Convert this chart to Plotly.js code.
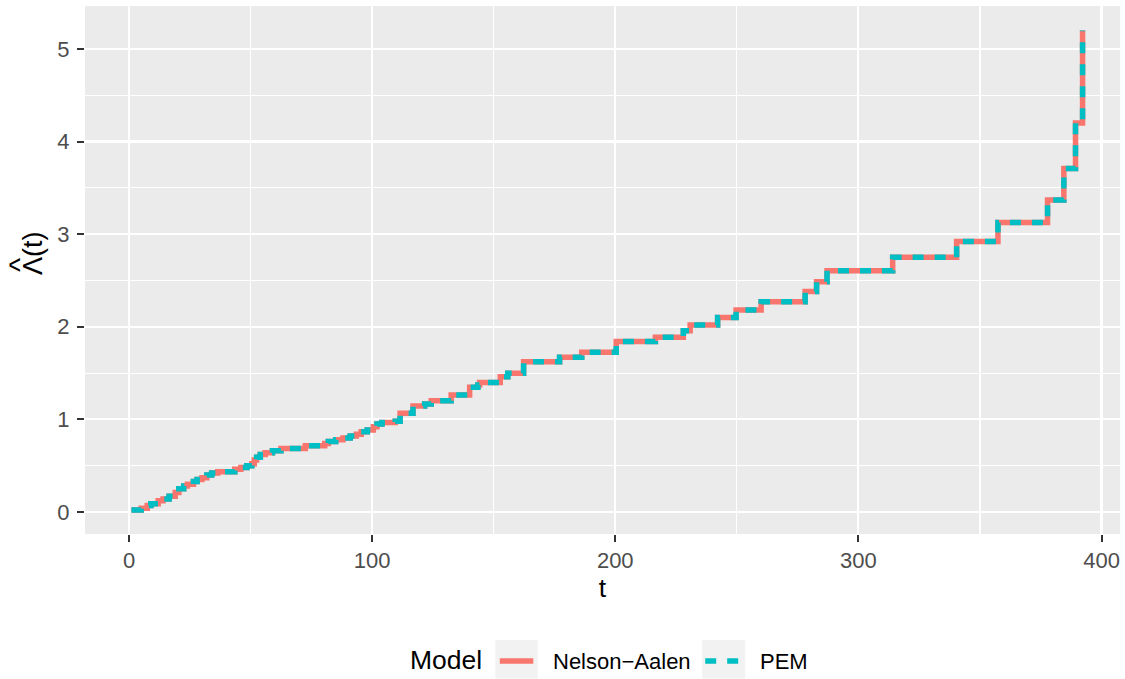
<!DOCTYPE html>
<html>
<head>
<meta charset="utf-8">
<script src="https://cdn.plot.ly/plotly-3.0.1.min.js"></script>
<style>
  html, body { margin: 0; padding: 0; background: #ffffff; }
  #chart { width: 1125px; height: 679px; }
</style>
</head>
<body>
<div id="chart"></div>
<script>
// Cumulative hazard estimates: jump times and the value reached at each jump
const naTime = [1, 5, 7.5, 9, 12, 14, 16.5, 19, 20.5, 22.5, 24, 26.5, 28, 30, 32, 34, 36.5, 43.5, 46, 48.5,
  50.5, 51.5, 52.5, 54, 56, 59, 62.5, 72.5, 80.5, 82, 85, 88, 91, 93.5, 95.5, 98, 100.5, 102, 104, 109.5,
  111.5, 116.8, 121.6, 124.3, 132.5, 140.1, 143.5, 144.2, 152.7, 155.8, 162.3, 177.1, 186.2, 200.4, 216.5,
  228, 230.8, 242.1, 249.7, 260, 278.1, 282.8, 287.1, 314.1, 340.4, 357.4, 377.8, 384.5, 389.3, 392.2];
const naHazard = [0.02, 0.04, 0.07, 0.09, 0.12, 0.14, 0.17, 0.21, 0.25, 0.28, 0.30, 0.33, 0.35, 0.37, 0.40, 0.42, 0.435, 0.46, 0.48, 0.50,
  0.52, 0.56, 0.59, 0.62, 0.64, 0.66, 0.685, 0.715, 0.74, 0.76, 0.78, 0.80, 0.82, 0.84, 0.865, 0.885, 0.92, 0.95, 0.965, 0.98,
  1.066, 1.145, 1.166, 1.20, 1.264, 1.346, 1.37, 1.397, 1.461, 1.497, 1.623, 1.67, 1.724, 1.84, 1.886,
  1.958, 2.02, 2.10, 2.18, 2.27, 2.38, 2.487, 2.606, 2.75, 2.92, 3.125, 3.37, 3.71, 4.20, 5.2];

const pemTime = [1, 5, 7.5, 9, 12, 14, 16.5, 19, 20.5, 22.5, 24, 26.5, 28, 30, 32, 34, 36.5, 43.5, 46, 48.5,
  50.5, 51.5, 52.5, 54, 56, 59, 62.5, 72.5, 80.5, 82, 85, 88, 91, 93.5, 95.5, 98, 100.5, 102, 104, 109.5,
  111.5, 116.8, 121.6, 124.3, 132.5, 140.1, 143.5, 144.2, 152.7, 155.8, 162.3, 177.1, 186.2, 200.4, 216.5,
  228, 230.8, 242.1, 249.7, 260, 278.1, 282.8, 287.1, 314.1, 340.4, 357.4, 377.8, 384.5, 389.3, 392.2];
const pemHazard = [0.02, 0.04, 0.07, 0.09, 0.12, 0.14, 0.17, 0.21, 0.25, 0.28, 0.30, 0.33, 0.35, 0.37, 0.40, 0.42, 0.435, 0.46, 0.48, 0.50,
  0.52, 0.56, 0.59, 0.62, 0.64, 0.66, 0.685, 0.715, 0.74, 0.76, 0.78, 0.80, 0.82, 0.84, 0.865, 0.885, 0.92, 0.95, 0.965, 0.98,
  1.066, 1.145, 1.166, 1.20, 1.264, 1.346, 1.37, 1.397, 1.461, 1.497, 1.623, 1.67, 1.724, 1.84, 1.886,
  1.958, 2.02, 2.10, 2.18, 2.27, 2.38, 2.487, 2.606, 2.75, 2.92, 3.125, 3.37, 3.71, 4.20, 5.2];

const modelNames = ['Nelson\u2212Aalen', 'PEM'];
const modelColors = ['#F8766D', '#00BFC4'];
const xTicks = [0, 100, 200, 300, 400];
const yTicks = [0, 1, 2, 3, 4, 5];

const W = 1125, H = 679;
const M = { l: 85, r: 4.5, t: 6, b: 145 };
const plotW = W - M.l - M.r, plotH = H - M.t - M.b;
// pixel position -> paper fraction, for the hand-built legend and axis label
const px = x => (x - M.l) / plotW;
const py = y => (H - M.b - y) / plotH;

const FONT = 'Liberation Sans, Arial, sans-serif';

const traces = [
  { x: naTime, y: naHazard, type: 'scatter', mode: 'lines', name: modelNames[0],
    line: { shape: 'hv', color: modelColors[0], width: 5.5 }, showlegend: false },
  { x: pemTime, y: pemHazard, type: 'scatter', mode: 'lines', name: modelNames[1],
    line: { shape: 'hv', color: modelColors[1], width: 5.5, dash: '11px,11px' }, showlegend: false }
];

const axisCommon = {
  showline: false, zeroline: false,
  gridcolor: '#FFFFFF', gridwidth: 2.2,
  ticks: 'outside', ticklen: 7, tickwidth: 2, tickcolor: '#333333',
  tickfont: { family: FONT, size: 22, color: '#4D4D4D' },
  tickmode: 'array'
};

const legendY = 660;
const shapes = [
  { type: 'rect', xref: 'paper', yref: 'paper', x0: px(495.5), x1: px(538), y0: py(640), y1: py(678.5),
    fillcolor: '#F2F2F2', line: { width: 0 } },
  { type: 'rect', xref: 'paper', yref: 'paper', x0: px(702.5), x1: px(745.5), y0: py(640), y1: py(678.5),
    fillcolor: '#F2F2F2', line: { width: 0 } },
  { type: 'line', xref: 'paper', yref: 'paper', x0: px(500), x1: px(533.5), y0: py(legendY + 1), y1: py(legendY + 1),
    line: { color: modelColors[0], width: 5.5 } },
  { type: 'line', xref: 'paper', yref: 'paper', x0: px(705.5), x1: px(740.5), y0: py(legendY + 1), y1: py(legendY + 1),
    line: { color: modelColors[1], width: 5.5, dash: '11px,11px' } }
];

const annotations = [
  { text: 'Model', xref: 'paper', yref: 'paper', x: px(408), y: py(legendY), xanchor: 'left', yanchor: 'middle',
    showarrow: false, font: { family: FONT, size: 26.5, color: '#000000' } },
  { text: modelNames[0], xref: 'paper', yref: 'paper', x: px(551), y: py(legendY + 1), xanchor: 'left', yanchor: 'middle',
    showarrow: false, font: { family: FONT, size: 22, color: '#000000' } },
  { text: modelNames[1], xref: 'paper', yref: 'paper', x: px(758), y: py(legendY + 1), xanchor: 'left', yanchor: 'middle',
    showarrow: false, font: { family: FONT, size: 22, color: '#000000' } },
  // y-axis label: Lambda(t) with a hat over the Lambda
  { text: '\u039B(t)', xref: 'paper', yref: 'paper', x: px(33), y: py(253), xanchor: 'center', yanchor: 'middle',
    textangle: -90, showarrow: false, font: { family: FONT, size: 27, color: '#000000' } },
  { text: '^', xref: 'paper', yref: 'paper', x: px(19), y: py(265), xanchor: 'center', yanchor: 'middle',
    textangle: -90, showarrow: false, font: { family: FONT, size: 30, color: '#000000' } }
];

const layout = {
  width: W, height: H,
  margin: M,
  paper_bgcolor: '#FFFFFF',
  plot_bgcolor: '#EBEBEB',
  showlegend: false,
  font: { family: FONT },
  xaxis: Object.assign({}, axisCommon, {
    range: [-18.1, 407.6],
    tickvals: xTicks, ticktext: xTicks.map(String),
    minor: { tickmode: 'array', tickvals: [50, 150, 250, 350], showgrid: true, gridcolor: '#FFFFFF', gridwidth: 1.1, ticks: '' },
    title: { text: 't', font: { family: FONT, size: 26.5, color: '#000000' }, standoff: 2 }
  }),
  yaxis: Object.assign({}, axisCommon, {
    range: [-0.238, 5.464],
    tickvals: yTicks, ticktext: yTicks.map(String),
    minor: { tickmode: 'array', tickvals: [0.5, 1.5, 2.5, 3.5, 4.5], showgrid: true, gridcolor: '#FFFFFF', gridwidth: 1.1, ticks: '' },
    ticklabelstandoff: 3
  }),
  shapes: shapes,
  annotations: annotations
};

Plotly.newPlot('chart', traces, layout, { displayModeBar: false, staticPlot: true });
</script>
</body>
</html>
